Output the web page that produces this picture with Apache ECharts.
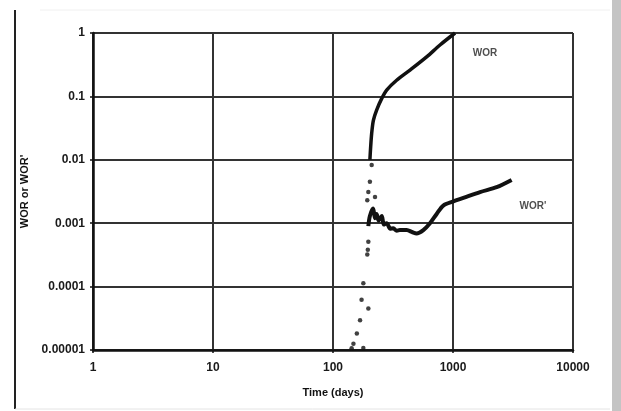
<!DOCTYPE html>
<html>
<head>
<meta charset="utf-8">
<script src="https://cdn.jsdelivr.net/npm/echarts@6/dist/echarts.min.js"></script>
<style>
  html, body { margin: 0; padding: 0; background: #fff; }
  #chart { width: 621px; height: 411px; }
</style>
</head>
<body>
<div id="chart"></div>
<script>
// Axis tick labels (log decades)
const xTickLabels = ['1', '10', '100', '1000', '10000'];
const yTickLabels = ['0.00001', '0.0001', '0.001', '0.01', '0.1', '1'];

// Early, sparse water-oil-ratio readings (days, ratio)
const earlyDays = [143, 148, 158, 168, 173, 179, 179, 193, 195, 197, 197, 193, 197, 224, 203, 210];
const earlyRatio = [0.0000107, 0.0000126, 0.0000182, 0.0000295, 0.000062, 0.000113, 0.0000108,
                    0.00032, 0.00038, 0.00051, 0.000045, 0.0023, 0.0031, 0.0026, 0.0045, 0.0083];

// WOR curve
const worDays = [203, 206, 210, 217, 231, 255, 280, 339, 438, 603, 779, 1040];
const worValues = [0.010, 0.016, 0.026, 0.042, 0.061, 0.093, 0.126, 0.18, 0.26, 0.42, 0.647, 1.0];

// WOR' (derivative) curve
const derivDays = [197, 203, 216, 224, 231, 240, 255, 265, 280, 300, 318, 340, 361, 411, 460, 497, 566, 643, 731, 830, 1006, 1220, 1680, 2310, 3080];
const derivValues = [0.0009, 0.0013, 0.0017, 0.0012, 0.0014, 0.0011, 0.0013, 0.00095, 0.0010, 0.00082, 0.00083, 0.00076, 0.00078, 0.00078, 0.00072, 0.00069, 0.00078, 0.0010, 0.0014, 0.0019, 0.0022, 0.0025, 0.0031, 0.0037, 0.0048];

// Curve captions placed in data space
const captionNames = ['WOR', "WOR'"];
const captionDays = [1848, 4640];
const captionValues = [0.48, 0.00187];

const zip = (a, b) => a.map((v, i) => [v, b[i]]);
const decadeLabel = (labels, lowExp) => v => {
  const idx = Math.round(Math.log10(v)) - lowExp;
  return labels[idx] !== undefined ? labels[idx] : '';
};

const chart = echarts.init(document.getElementById('chart'), null, { renderer: 'canvas' });
const ink = '#111';
const family = 'Liberation Sans, Arial, sans-serif';
const tickFont = { fontFamily: family, fontSize: 12, fontWeight: 'bold', color: '#1a1a1a' };

chart.setOption({
  animation: false,
  backgroundColor: '#fff',
  grid: { left: 93, right: 48, top: 33, bottom: 61, containLabel: false },
  xAxis: {
    type: 'log', logBase: 10, min: 1, max: 10000,
    name: 'Time (days)', nameLocation: 'middle', nameGap: 37,
    nameTextStyle: { fontFamily: family, fontSize: 11, fontWeight: 'bold', color: ink },
    axisLine: { show: true, lineStyle: { color: '#111', width: 2.5 } },
    axisTick: { show: true, length: 3, lineStyle: { color: '#111', width: 1.5 } },
    minorTick: { show: false },
    axisLabel: Object.assign({ margin: 12, formatter: decadeLabel(xTickLabels, 0) }, tickFont),
    splitLine: { show: true, lineStyle: { color: '#333', width: 2 } }
  },
  yAxis: {
    type: 'log', logBase: 10, min: 0.00001, max: 1,
    name: "WOR or WOR'", nameLocation: 'middle', nameGap: 61, nameRotate: 90,
    nameTextStyle: { fontFamily: family, fontSize: 11, fontWeight: 'bold', color: ink },
    axisLine: { show: true, lineStyle: { color: '#111', width: 2.5 } },
    axisTick: { show: true, length: 3, lineStyle: { color: '#111', width: 1.5 } },
    axisLabel: Object.assign({ margin: 8, formatter: decadeLabel(yTickLabels, -5) }, tickFont),
    splitLine: { show: true, lineStyle: { color: '#333', width: 2 } }
  },
  series: [
    {
      name: 'early', type: 'scatter', data: zip(earlyDays, earlyRatio),
      symbol: 'circle', symbolSize: 4.5, itemStyle: { color: '#111' }, z: 5
    },
    {
      name: 'WOR', type: 'line', data: zip(worDays, worValues),
      showSymbol: false, smooth: 0.3,
      lineStyle: { color: '#111', width: 3.5 }, z: 5
    },
    {
      name: "WOR'", type: 'line', data: zip(derivDays, derivValues),
      showSymbol: false, smooth: 0.3,
      lineStyle: { color: '#111', width: 4 }, z: 5
    },
    {
      name: 'captions', type: 'scatter', symbolSize: 0,
      data: captionDays.map((d, i) => ({ value: [d, captionValues[i]], name: captionNames[i] })),
      label: {
        show: true, position: 'inside', formatter: p => p.name,
        fontFamily: family, fontSize: 10, fontWeight: 'bold', color: '#222'
      },
      z: 6
    }
  ],
  graphic: [
    { type: 'line', shape: { x1: 15, y1: 10, x2: 15, y2: 409 }, style: { stroke: '#222', lineWidth: 2 } },
    { type: 'line', shape: { x1: 15, y1: 409, x2: 610, y2: 409 }, style: { stroke: '#e4e4e4', lineWidth: 1 } },
    { type: 'line', shape: { x1: 40, y1: 10, x2: 610, y2: 10 }, style: { stroke: '#f0f0f0', lineWidth: 1 } },
    { type: 'rect', shape: { x: 612, y: 0, width: 9, height: 411 }, style: { fill: '#c4c4c4' } }
  ]
});
</script>
</body>
</html>
